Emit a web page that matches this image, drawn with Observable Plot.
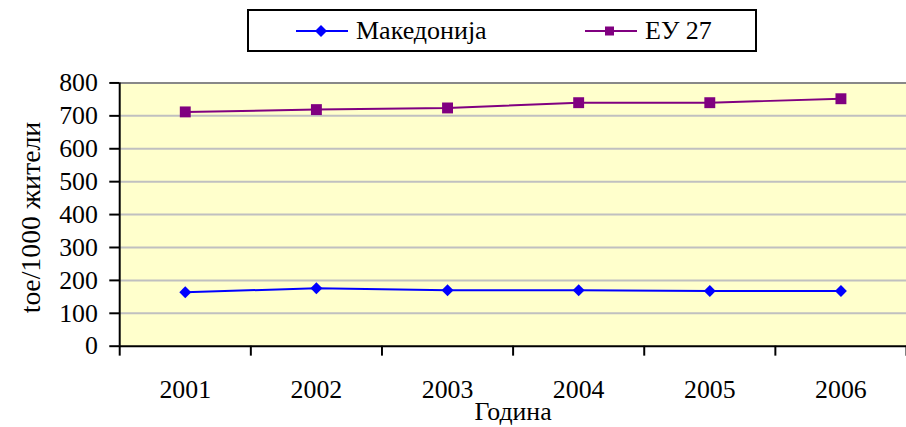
<!DOCTYPE html>
<html>
<head>
<meta charset="utf-8">
<script src="https://cdn.jsdelivr.net/npm/d3@7"></script>
<script src="https://cdn.jsdelivr.net/npm/@observablehq/plot@0.6"></script>
<style>
  html, body { margin: 0; padding: 0; background: #fff; overflow: hidden; width: 906px; height: 427px; }
  #wrap { position: relative; width: 906px; height: 427px; font-family: "Times New Roman", "Liberation Serif", "DejaVu Serif", serif; }
  #chart { position: absolute; left: 0; top: 0; }
  #legend { position: absolute; left: 247px; top: 9px; width: 506px; height: 39px; border: 2px solid #000; background: #fff; }
  .item { position: absolute; top: 0; height: 39px; display: flex; align-items: center; font-size: 26px; color: #000; white-space: nowrap; }
  .item svg { margin-right: 8px; }
</style>
</head>
<body>
<div id="wrap">
  <div id="chart"></div>
  <div id="legend"></div>
</div>
<script>
const years = [2001, 2002, 2003, 2004, 2005, 2006];
const seriesNames = ["Македонија", "ЕУ 27"];
const makedonija = [164, 176, 170, 170, 168, 168];
const eu27 = [712, 719, 724, 740, 740, 752];
const yTicks = [0, 100, 200, 300, 400, 500, 600, 700, 800];
const yTitle = "toe/1000 жители";
const xTitle = "Година";

const colors = ["#0000ff", "#800080"];
const font = '"Times New Roman", "Liberation Serif", "DejaVu Serif", serif';

const mk = years.map((year, i) => ({year, value: makedonija[i], series: seriesNames[0]}));
const eu = years.map((year, i) => ({year, value: eu27[i], series: seriesNames[1]}));
const xDomain = [years[0] - 0.5, years[years.length - 1] + 0.5];
const boundaries = years.map(y => y - 0.5).concat([xDomain[1]]);
const yMax = yTicks[yTicks.length - 1];

const chart = Plot.plot({
  width: 912,
  height: 427,
  marginLeft: 120,
  marginRight: 0,
  marginTop: 83,
  marginBottom: 79,
  style: {fontFamily: font, fontSize: "26px", color: "#000", background: "transparent", overflow: "visible"},
  x: {domain: xDomain, label: null},
  y: {domain: [0, yMax], label: null},
  marks: [
    Plot.frame({fill: "#ffffcc", stroke: "none"}),
    Plot.ruleY(yTicks.filter(d => d > 0 && d < yMax), {stroke: "#c0c0c0", strokeWidth: 2}),
    Plot.ruleY([yMax], {stroke: "#888888", strokeWidth: 2}),
    Plot.axisY(yTicks, {tickSize: 10, tickPadding: 12, strokeWidth: 2, fontSize: 26, fontFamily: font, tickFormat: d => String(d), label: null}),
    Plot.axisX(boundaries, {tickSize: 10, strokeWidth: 2, tickFormat: () => "", label: null}),
    Plot.axisX(years, {tickSize: 0, tickPadding: 34, fontSize: 26, fontFamily: font, tickFormat: d => String(d), label: null}),
    Plot.ruleX([xDomain[0]], {stroke: "#000", strokeWidth: 2}),
    Plot.ruleY([0], {stroke: "#000", strokeWidth: 2}),
    Plot.text([yTitle], {frameAnchor: "left", lineAnchor: "middle", textAnchor: "middle", rotate: -90, dx: -89, dy: 3, fontSize: 28, fontFamily: font, fill: "#000"}),
    Plot.text([xTitle], {frameAnchor: "bottom", lineAnchor: "middle", dy: 66, fontSize: 26, fontFamily: font, fill: "#000"}),
    Plot.line(mk, {x: "year", y: "value", stroke: colors[0], strokeWidth: 2}),
    Plot.line(eu, {x: "year", y: "value", stroke: colors[1], strokeWidth: 2}),
    Plot.dot(mk, {x: "year", y: "value", symbol: "square", rotate: 45, r: 4.8, fill: colors[0], stroke: "none"}),
    Plot.dot(eu, {x: "year", y: "value", symbol: "square", r: 6.2, fill: colors[1], stroke: "none"})
  ]
});
document.getElementById("chart").appendChild(chart);

// Legend
const legend = document.getElementById("legend");
const itemLeft = [47, 336];
seriesNames.forEach((name, i) => {
  const item = document.createElement("div");
  item.className = "item";
  item.style.left = itemLeft[i] + "px";
  const sw = d3.create("svg").attr("width", 52).attr("height", 20);
  sw.append("line").attr("x1", 0).attr("x2", 52).attr("y1", 10).attr("y2", 10)
    .attr("stroke", colors[i]).attr("stroke-width", 2);
  if (i === 0) {
    sw.append("path").attr("d", "M25,4L31,10L25,16L19,10Z").attr("fill", colors[i]);
  } else {
    sw.append("rect").attr("x", 20).attr("y", 5.5).attr("width", 9).attr("height", 9).attr("fill", colors[i]);
  }
  item.appendChild(sw.node());
  const t = document.createElement("span");
  t.textContent = name;
  item.appendChild(t);
  legend.appendChild(item);
});
</script>
</body>
</html>
